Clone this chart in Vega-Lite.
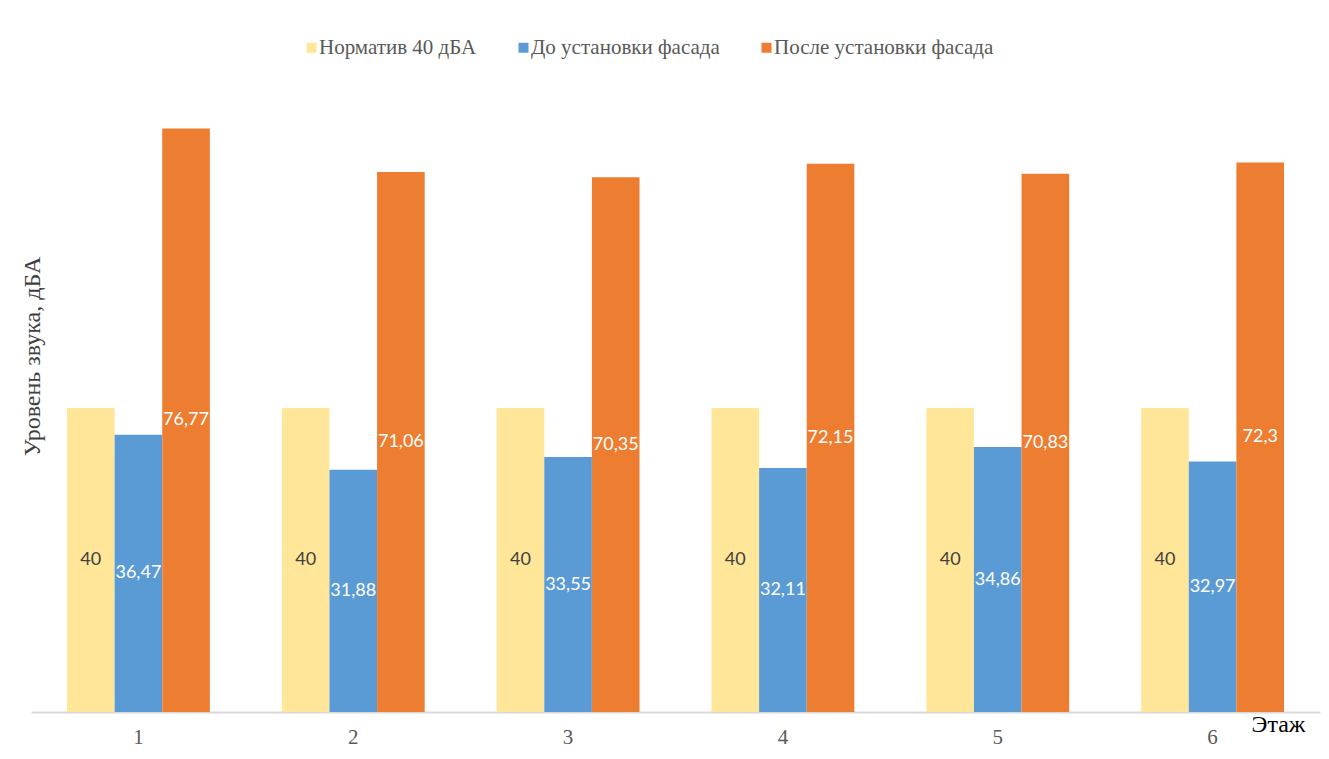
{
  "$schema": "https://vega.github.io/schema/vega-lite/v6.json",
  "autosize": "none",
  "padding": {"left": 31, "top": 104, "right": 9, "bottom": 47},
  "width": 1289,
  "height": 608,
  "config": {
    "font": "Liberation Serif",
    "view": {"stroke": null},
    "locale": {"number": {"decimal": ",", "thousands": " ", "grouping": [3], "currency": ["", ""]}}
  },
  "data": {
    "values": [
      {"floor": "1", "series": "Норматив 40 дБА", "value": 40},
      {"floor": "1", "series": "До установки фасада", "value": 36.47},
      {"floor": "1", "series": "После установки фасада", "value": 76.77},
      {"floor": "2", "series": "Норматив 40 дБА", "value": 40},
      {"floor": "2", "series": "До установки фасада", "value": 31.88},
      {"floor": "2", "series": "После установки фасада", "value": 71.06},
      {"floor": "3", "series": "Норматив 40 дБА", "value": 40},
      {"floor": "3", "series": "До установки фасада", "value": 33.55},
      {"floor": "3", "series": "После установки фасада", "value": 70.35},
      {"floor": "4", "series": "Норматив 40 дБА", "value": 40},
      {"floor": "4", "series": "До установки фасада", "value": 32.11},
      {"floor": "4", "series": "После установки фасада", "value": 72.15},
      {"floor": "5", "series": "Норматив 40 дБА", "value": 40},
      {"floor": "5", "series": "До установки фасада", "value": 34.86},
      {"floor": "5", "series": "После установки фасада", "value": 70.83},
      {"floor": "6", "series": "Норматив 40 дБА", "value": 40},
      {"floor": "6", "series": "До установки фасада", "value": 32.97},
      {"floor": "6", "series": "После установки фасада", "value": 72.3}
    ]
  },
  "encoding": {
    "x": {
      "field": "floor", "type": "nominal",
      "scale": {"paddingInner": 0.335, "paddingOuter": 0.1675},
      "axis": {
        "title": "Этаж", "labelAngle": 0, "ticks": false,
        "labelFontSize": 21, "labelColor": "#595959", "labelPadding": 14,
        "domainColor": "#d9d9d9", "domainWidth": 2,
        "titleFontSize": 24, "titleFontWeight": "normal", "titleColor": "#000000",
        "titleX": 1247, "titleY": 12, "titleAlign": "center", "titleBaseline": "middle"
      }
    },
    "xOffset": {
      "field": "series", "type": "nominal",
      "sort": ["Норматив 40 дБА", "До установки фасада", "После установки фасада"]
    }
  },
  "layer": [
    {
      "mark": {"type": "bar"},
      "encoding": {
        "y": {
          "field": "value", "type": "quantitative", "stack": null,
          "scale": {"domain": [0, 80], "nice": false},
          "axis": {
            "title": "Уровень звука, дБА", "labels": false, "ticks": false, "domain": false, "grid": false,
            "titleFontSize": 24, "titleFontWeight": "normal", "titleColor": "#404040",
            "titleX": 1, "titleY": 252, "titleAngle": -90, "titleAlign": "center", "titleBaseline": "middle"
          }
        },
        "color": {
          "field": "series", "type": "nominal",
          "sort": ["Норматив 40 дБА", "До установки фасада", "После установки фасада"],
          "scale": {
            "domain": ["Норматив 40 дБА", "До установки фасада", "После установки фасада"],
            "range": ["#FFE699", "#5B9BD5", "#ED7D31"]
          },
          "legend": {
            "title": null, "orient": "none", "direction": "horizontal",
            "legendX": 270, "legendY": -67,
            "symbolType": "square", "symbolSize": 100, "symbolStrokeWidth": 0,
            "labelFontSize": 21, "labelColor": "#595959", "labelOffset": -3, "labelLimit": 400,
            "columnPadding": 36
          }
        }
      }
    },
    {
      "mark": {"type": "text", "fontSize": 18, "font": "Lato", "baseline": "middle"},
      "encoding": {
        "y": {"field": "value", "type": "quantitative", "stack": "zero", "bandPosition": 0.5},
        "detail": {"field": "series"},
        "text": {"field": "value", "type": "quantitative", "format": ".4~g"},
        "color": {
          "condition": {"test": "datum.series === 'Норматив 40 дБА'", "value": "#404040"},
          "value": "#ffffff"
        }
      }
    }
  ]
}
